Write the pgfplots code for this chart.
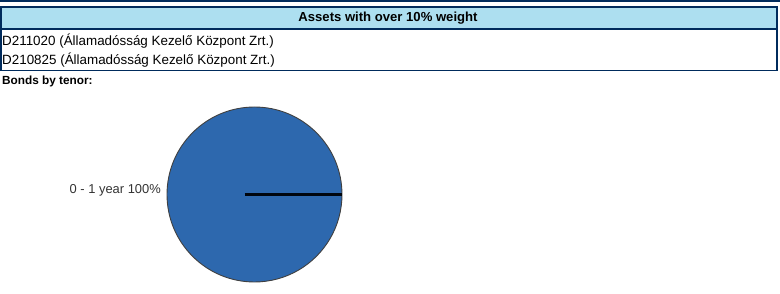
\documentclass[border=0pt]{standalone}
\usepackage{pgfplots}
\pgfplotsset{compat=1.18}
\usepackage{pgfplotstable}
\usepackage{fontspec}
\setmainfont{Liberation Sans}
\definecolor{navy}{HTML}{002B5C}
\definecolor{hdrblue}{HTML}{ADDFF0}
\definecolor{piefill}{HTML}{2D68AE}
\definecolor{pieedge}{HTML}{404040}
\definecolor{lbl}{HTML}{333333}
\pgfplotstableread{
share
100
}\tenor
\begin{document}
\begin{tikzpicture}
\begin{scope}[x=1pt,y=-1pt]
\path[use as bounding box] (0,0) rectangle (780,294);
\fill[navy] (0,0) rectangle (780,1.8);
\fill[hdrblue] (0.8,7.5) rectangle (777.2,29);
\draw[navy,line width=1.6pt] (0.8,7.3) rectangle (777.2,70.6);
\draw[navy,line width=1.1pt] (0.8,29) -- (777.2,29);
\node[font=\bfseries\fontsize{13.1}{15}\selectfont,anchor=center] at (388,17.8) {Assets with over 10\% weight};
\node[font=\fontsize{13.4}{15}\selectfont,anchor=west,inner sep=0pt] at (2,41) {D211020 (Államadósság Kezelő Központ Zrt.)};
\node[font=\fontsize{13.4}{15}\selectfont,anchor=west,inner sep=0pt] at (2,60.5) {D210825 (Államadósság Kezelő Központ Zrt.)};
\node[font=\bfseries\fontsize{11.8}{14}\selectfont,anchor=west,inner sep=0pt] at (2,81.5) {Bonds by tenor:};
\node[font=\fontsize{12.9}{15}\selectfont,text=lbl,anchor=east,inner sep=0pt] at (161,190) {0 - 1 year 100\%};
\end{scope}
\begin{axis}[
  at={(254.5pt,-194.5pt)}, anchor=center,
  scale only axis, width=200pt, height=200pt,
  xmin=-100, xmax=100, ymin=-100, ymax=100,
  hide axis, clip=false]
\pgfplotstablegetelem{0}{share}\of\tenor
\pgfmathsetmacro{\ang}{3.6*\pgfplotsretval}
\fill[piefill,draw=pieedge,line width=0.9pt] (axis cs:0,0) -- (axis cs:87.5,0) arc[start angle=0,end angle=\ang,radius=87.5pt] -- cycle;
\draw[black!85!navy,line width=2.2pt] (axis cs:-10,0) -- (axis cs:87.5,0);
\end{axis}
\end{tikzpicture}
\end{document}
